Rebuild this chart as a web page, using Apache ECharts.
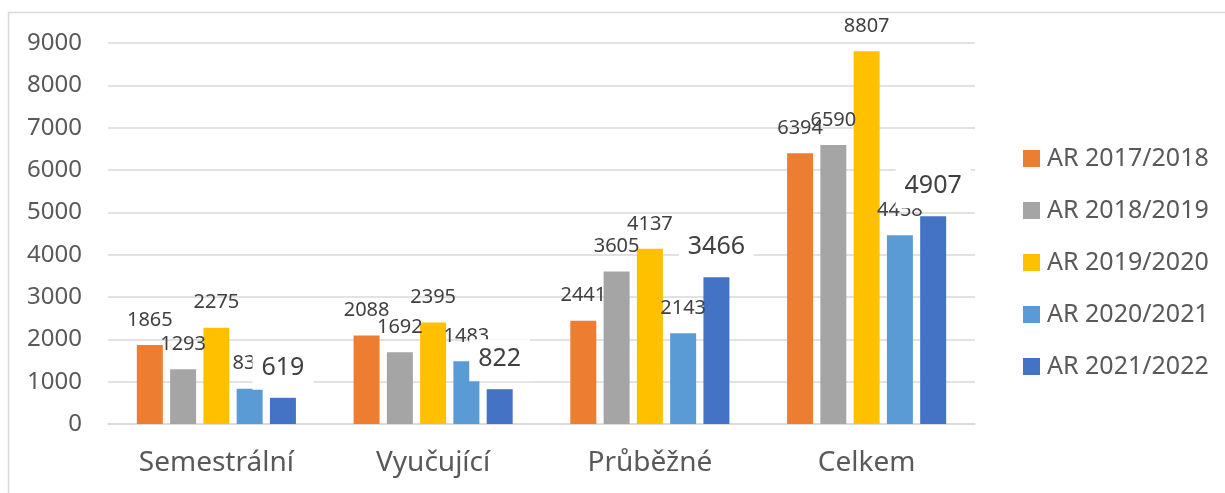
<!DOCTYPE html>
<html>
<head>
<meta charset="utf-8">
<title>AR</title>
<script src="https://cdn.jsdelivr.net/npm/echarts@6/dist/echarts.min.js"></script>
<style>
  html, body { margin: 0; padding: 0; background: #fff; }
  #chart { width: 1225px; height: 493px; }
</style>
</head>
<body>
<div id="chart"></div>
<script>
const categories = ["Semestrální", "Vyučující", "Průběžné", "Celkem"];
const seriesNames = ["AR 2017/2018", "AR 2018/2019", "AR 2019/2020", "AR 2020/2021", "AR 2021/2022"];
const ar1718 = [1865, 2088, 2441, 6394];
const ar1819 = [1293, 1692, 3605, 6590];
const ar1920 = [2275, 2395, 4137, 8807];
const ar2021 = [833, 1483, 2143, 4458];
const ar2122 = [619, 822, 3466, 4907];
const colors = ["#ED7D31", "#A5A5A5", "#FFC000", "#5B9BD5", "#4472C4"];

const chart = echarts.init(document.getElementById("chart"));

const allData = [ar1718, ar1819, ar1920, ar2021, ar2122];

function makeSeries(data, index) {
  const last = index === allData.length - 1;
  return {
    name: seriesNames[index],
    type: "bar",
    data: data,
    barGap: "28%",
    barCategoryGap: "26.6%",
    itemStyle: { color: colors[index] },
    label: last
      ? {
          show: true,
          position: "top",
          distance: 8,
          color: "#404040",
          fontFamily: "Noto Sans",
          fontSize: 25,
          lineHeight: 24,
          backgroundColor: "#fff",
          padding: [8, 9, 10, 9],
        }
      : {
          show: true,
          position: "top",
          distance: 15,
          color: "#404040",
          fontFamily: "Noto Sans",
          fontSize: 20,
          lineHeight: 20,
        },
  };
}

const option = {
  animation: false,
  backgroundColor: "#fff",
  textStyle: { fontFamily: "Noto Sans" },
  graphic: [
    {
      type: "rect",
      shape: { x: 8.5, y: 12.5, width: 1400, height: 700 },
      style: { fill: "none", stroke: "#d9d9d9", lineWidth: 1.5 },
      silent: true,
      z: -10,
    },
  ],
  grid: { left: 108, right: 250, top: 43, bottom: 69 },
  legend: {
    orient: "vertical",
    left: 1018,
    top: 141,
    itemWidth: 17,
    itemHeight: 17,
    itemGap: 27,
    icon: "rect",
    data: seriesNames,
    textStyle: {
      color: "#595959",
      fontSize: 25,
      lineHeight: 24,
      padding: [0, 0, 0, 2],
    },
  },
  xAxis: {
    type: "category",
    data: categories,
    axisTick: { show: false },
    axisLine: { lineStyle: { color: "#d9d9d9", width: 1.5 } },
    axisLabel: { color: "#595959", fontSize: 28, margin: 25 },
  },
  yAxis: {
    type: "value",
    min: 0,
    max: 9000,
    interval: 1000,
    axisLine: { show: false },
    axisTick: { show: false },
    axisLabel: {
      color: "#595959",
      fontSize: 24,
      margin: 26,
      formatter: (v) => String(v),
    },
    splitLine: { lineStyle: { color: "#d9d9d9", width: 1.5 } },
  },
  series: allData.map(makeSeries),
};

chart.setOption(option);
</script>
</body>
</html>
